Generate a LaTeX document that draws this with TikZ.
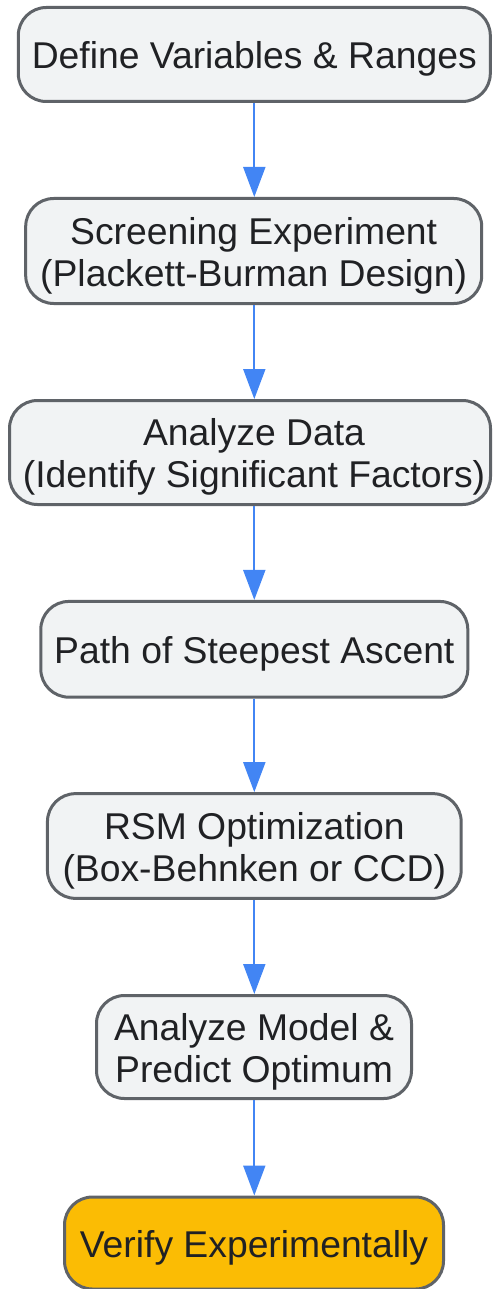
\documentclass[tikz,border=0pt]{standalone}
\usepackage{fontspec}
\setmainfont{Liberation Sans}
\usetikzlibrary{arrows.meta}
\definecolor{boxfill}{HTML}{F1F3F4}
\definecolor{boxline}{HTML}{5F6368}
\definecolor{txt}{HTML}{202124}
\definecolor{arrblue}{HTML}{4285F4}
\definecolor{gold}{HTML}{FBBC04}
\newcommand{\lbl}[1]{\raisebox{-6pt}[\height][\depth]{\begin{tabular}{@{}c@{}}#1\end{tabular}}}
\begin{document}
\begin{tikzpicture}[x=1pt,y=-1pt,
  box/.style={draw=boxline, fill=boxfill, line width=3pt, rounded corners=28pt,
    inner sep=0pt, text=txt,
    font=\fontsize{37.3pt}{42pt}\selectfont},
  final/.style={box, fill=gold},
  arr/.style={draw=arrblue, line width=2pt, -{Triangle[length=30pt,width=22pt]}, arrblue}]
\useasboundingbox (0,0) rectangle (494,1289);
\node[box, minimum width=472pt, minimum height=94pt] (n1) at (254.3,54.5) {\lbl{Define Variables \& Ranges}};
\node[box, minimum width=456pt, minimum height=105pt] (n2) at (253.7,251) {\lbl{Screening Experiment\\(Plackett-Burman Design)}};
\node[box, minimum width=481pt, minimum height=104pt] (n3) at (250,452.5) {\hspace*{8pt}\lbl{Analyze Data\\(Identify Significant Factors)}};
\node[box, minimum width=427pt, minimum height=95.7pt] (n4) at (254.3,649.3) {\lbl{Path of Steepest Ascent}};
\node[box, minimum width=413.7pt, minimum height=104.7pt] (n5) at (254.3,846) {\lbl{RSM Optimization\\(Box-Behnken or CCD)}};
\node[box, minimum width=315pt, minimum height=103pt] (n6) at (254,1047) {\lbl{Analyze Model \&\\Predict Optimum}};
\node[final, minimum width=379pt, minimum height=92pt] (n7) at (254,1243) {\lbl{Verify Experimentally}};
\draw[arr] (n1.south) -- (n1.south |- n2.north);
\draw[arr] (n1.south |- n2.south) -- (n1.south |- n3.north);
\draw[arr] (n1.south |- n3.south) -- (n1.south |- n4.north);
\draw[arr] (n1.south |- n4.south) -- (n1.south |- n5.north);
\draw[arr] (n1.south |- n5.south) -- (n1.south |- n6.north);
\draw[arr] (n1.south |- n6.south) -- (n1.south |- n7.north);
\end{tikzpicture}
\end{document}
